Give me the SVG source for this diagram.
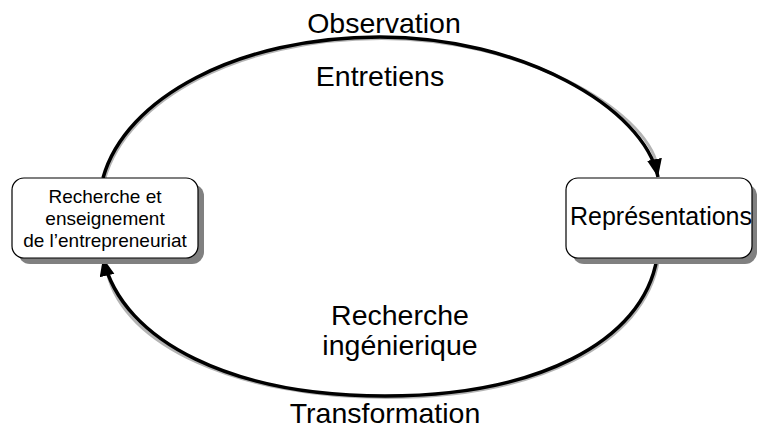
<svg xmlns="http://www.w3.org/2000/svg" width="757" height="435" viewBox="0 0 757 435">
<defs>
<style>
.box{fill:#ffffff;stroke:#000000;stroke-width:1.2}
.shadow{fill:#808080;stroke:none}
.arc{fill:none;stroke:#000000;stroke-width:3.5}
.arcsh{fill:none;stroke:#b4b4b4;stroke-width:3}
.big{font-family:"Liberation Sans",Arial,sans-serif;font-size:28.5px;fill:#000000;text-anchor:middle}
.mid{font-family:"Liberation Sans",Arial,sans-serif;font-size:25px;fill:#000000;text-anchor:middle}
.small{font-family:"Liberation Sans",Arial,sans-serif;font-size:19px;fill:#000000;text-anchor:middle}
</style>
<marker id="arrow" markerUnits="userSpaceOnUse" markerWidth="19" markerHeight="16" refX="18" refY="7.5" orient="auto">
<path d="M0,0 L18,7.5 L0,15 Z" fill="#000000"/>
</marker>
</defs>
<rect width="757" height="435" fill="#ffffff"/>
<g id="connectors">
<g transform="translate(1.5,1.5)">
<path class="arcsh" d="M103,178 C125,98 238,37 380,37 C520,37 644,107 656,165"/>
<path class="arcsh" d="M657,258 C643,343 535,396 385,396 C235,396 122.5,343 106,272"/>
</g>
<path class="arc" d="M103,178 C125,98 238,37 380,37 C520,37 644,107 658,177" marker-end="url(#arrow)"/>
<path class="arc" d="M657,258 C643,343 535,396 385,396 C235,396 122.5,343 103,258" marker-end="url(#arrow)"/>
</g>
<g id="label-observation"><text class="big" x="384" y="33">Observation</text></g>
<g id="label-entretiens"><text class="big" x="380" y="86">Entretiens</text></g>
<g id="label-recherche-ing"><text class="big" x="400" y="325">Recherche</text><text class="big" x="400" y="355">ingénierique</text></g>
<g id="label-transformation"><text class="big" x="385" y="423">Transformation</text></g>
<g id="node-recherche">
<rect class="shadow" x="18" y="184" width="186" height="80" rx="12"/>
<rect class="box" x="12" y="178" width="186" height="80" rx="12"/>
<text class="small" x="105" y="203">Recherche et</text>
<text class="small" x="105" y="225">enseignement</text>
<text class="small" x="105" y="247">de l’entrepreneuriat</text>
</g>
<g id="node-representations">
<rect class="shadow" x="572" y="184" width="185" height="80" rx="12"/>
<rect class="box" x="566" y="178" width="186" height="80" rx="12"/>
<text class="mid" x="661" y="225">Représentations</text>
</g>
</svg>
